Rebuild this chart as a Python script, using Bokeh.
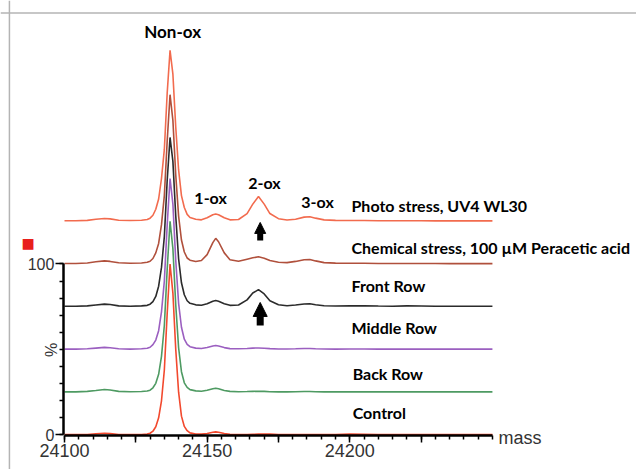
import math
from bokeh.plotting import figure
from bokeh.models import (ColumnDataSource, FixedTicker, Range1d, Label, Arrow,
                          NormalHead, Span)
from bokeh.core.properties import value
from bokeh.embed import file_html
from bokeh.resources import INLINE

# ---------------- data ----------------
mass = [24100, 24104, 24108, 24111, 24114, 24116, 24119, 24123, 24127, 24129,
        24130, 24131, 24132, 24133, 24134, 24135, 24136, 24137, 24138, 24139,
        24140, 24141, 24142, 24143, 24144, 24146, 24148, 24150, 24152, 24153,
        24154, 24156, 24158, 24161, 24164, 24166, 24168, 24170, 24172, 24175,
        24178, 24181, 24184, 24186, 24188, 24191, 24195, 24200, 24205, 24210,
        24215, 24220, 24225, 24230, 24235, 24240, 24245, 24250]

photo = [0.3, 0.3, 0.5, 1.2, 1.6, 1.4, 0.6, 0.4, 0.6, 1.0,
         1.8, 3.5, 7, 13, 25, 42, 75, 100, 86, 55,
         30, 15, 8, 4, 2.2, 1.2, 0.8, 2.0, 3.8, 4.2,
         3.8, 2.0, 0.8, 1.0, 4.5, 10, 14.5, 10, 4.5, 1.5,
         0.7, 1.2, 2.4, 2.6, 1.8, 0.8, 0.5, 0.4, 0.4, 0.3,
         0.3, 0.3, 0.3, 0.2, 0.2, 0.2, 0.2, 0.2]

chemical = [0.3, 0.3, 0.6, 1.3, 1.8, 1.5, 0.7, 0.4, 0.6, 1.0,
            1.6, 3.2, 6.5, 12, 23, 40, 72, 99, 84, 52,
            28, 14, 7, 3.5, 2.2, 1.5, 2.0, 5.5, 12.5, 15,
            13, 6.5, 2.5, 1.6, 2.8, 3.6, 4.2, 3.4, 2.0, 1.0,
            0.8, 1.5, 2.5, 2.6, 1.8, 0.8, 0.5, 0.4, 0.4, 0.3,
            0.3, 0.3, 0.3, 0.3, 0.2, 0.2, 0.2, 0.2]

front = [0.3, 0.3, 0.5, 1.0, 1.5, 1.3, 0.5, 0.3, 0.5, 0.8,
         1.5, 3.0, 6, 12, 23, 41, 74, 99, 85, 53,
         28, 14, 7, 3.5, 2, 1.1, 0.9, 1.8, 3.2, 3.6,
         3.2, 1.8, 0.8, 1.0, 4, 8, 10, 7.5, 3.5, 1.2,
         0.6, 1.0, 1.6, 1.7, 1.2, 0.6, 0.4, 0.5, 0.6, 0.4,
         0.3, 0.5, 0.4, 0.3, 0.3, 0.3, 0.3, 0.3]

middle = [0.2, 0.2, 0.4, 0.8, 1.2, 1.0, 0.4, 0.2, 0.4, 0.7,
          1.3, 2.8, 5.5, 11, 22, 40, 73, 100, 85, 52,
          27, 13, 6, 3, 1.6, 0.8, 0.6, 1.2, 2.0, 2.3,
          2.0, 1.1, 0.5, 0.4, 0.6, 0.8, 0.9, 0.7, 0.5, 0.3,
          0.3, 0.4, 0.6, 0.6, 0.4, 0.3, 0.2, 0.3, 0.3, 0.2,
          0.2, 0.2, 0.2, 0.2, 0.2, 0.2, 0.2, 0.2]

back = [0.2, 0.2, 0.5, 1.0, 1.6, 1.3, 0.5, 0.3, 0.4, 0.7,
        1.2, 2.6, 5.2, 10.5, 21, 39, 72, 100, 84, 51,
        26, 12, 5.5, 2.8, 1.5, 0.8, 0.6, 1.2, 2.0, 2.3,
        2.0, 1.0, 0.5, 0.3, 0.4, 0.5, 0.6, 0.5, 0.3, 0.2,
        0.2, 0.3, 0.4, 0.4, 0.3, 0.2, 0.2, 0.2, 0.2, 0.2,
        0.2, 0.2, 0.2, 0.2, 0.2, 0.2, 0.2, 0.2]

control = [0.2, 0.2, 0.3, 0.7, 1.0, 0.8, 0.3, 0.2, 0.3, 0.5,
           1.0, 2.2, 4.8, 10, 20, 38, 71, 100, 83, 50,
           25, 11, 5, 2.5, 1.2, 0.6, 0.5, 0.9, 1.6, 1.8,
           1.6, 0.8, 0.4, 0.3, 0.3, 0.4, 0.5, 0.6, 0.5, 0.3,
           0.2, 0.2, 0.3, 0.3, 0.2, 0.2, 0.2, 0.5, 0.4, 0.2,
           0.2, 0.2, 0.2, 0.2, 0.2, 0.2, 0.2, 0.2]

series_names = ["Photo stress, UV4 WL30",
                "Chemical stress, 100 \u00b5M Peracetic acid",
                "Front Row", "Middle Row", "Back Row", "Control"]
series_values = [photo, chemical, front, middle, back, control]
series_offsets = [125, 100, 75, 50, 25, 0]

peak_names = ["Non-ox", "1-ox", "2-ox", "3-ox"]
x_tick_values = [24100, 24125, 24150, 24175, 24200, 24225]
x_tick_labels = ["24100", "", "24150", "", "24200", ""]
y_tick_values = [0, 100]

# ---------------- styling / placement ----------------
colors = ["#F26B4E", "#B0503C", "#2B2B2B", "#9B5FC0", "#4E9A62", "#F2492E"]
label_x = [24200.6, 24200.6, 24200.6, 24200.6, 24201.0, 24201.0]
label_y = [134.2, 109.6, 87.4, 62.9, 36.0, 13.2]
peak_x = [24137.9, 24151.2, 24170.1, 24188.7]
peak_y = [236.0, 138.9, 147.7, 136.6]
peak_font = ["17px", "16px", "16px", "16px"]

p = figure(width=636, height=469, title=None,
           x_range=Range1d(24077.57, 24300.5), y_range=Range1d(-20.2, 254.1),
           output_backend="svg", toolbar_location=None,
           min_border=0, min_border_left=0, min_border_right=0,
           min_border_top=0, min_border_bottom=0)
p.xgrid.visible = False
p.ygrid.visible = False
p.outline_line_color = None
p.background_fill_color = "white"
p.border_fill_color = "white"

# light grey frame of the original figure (top and left edges visible)
p.add_layout(Span(location=24080.7, dimension="height",
                  line_color="#b4b4b4", line_width=1.5))
p.add_layout(Span(location=246.8, dimension="width",
                  line_color="#b4b4b4", line_width=1.5))

# traces
for vals, off, col in zip(series_values, series_offsets, colors):
    src = ColumnDataSource(dict(x=mass, y=[v + off for v in vals]))
    p.line("x", "y", source=src, line_color=col, line_width=1.6)

# series labels
lab_src = ColumnDataSource(dict(x=label_x, y=label_y, t=series_names))
p.text("x", "y", text="t", source=lab_src, text_font=value("Lato"),
       text_font_style="bold", text_font_size="16px", text_color="black",
       text_align="left", text_baseline="middle")

pk_src = ColumnDataSource(dict(x=peak_x, y=peak_y, t=peak_names, fs=peak_font))
p.text("x", "y", text="t", source=pk_src, text_font=value("Lato"),
       text_font_style="bold", text_font_size="fs", text_color="black",
       text_align="center", text_baseline="middle")

# arrows pointing at the 2-ox peaks
p.add_layout(Arrow(end=NormalHead(size=11, fill_color="black", line_color="black"),
                   x_start=24168.6, y_start=113.8, x_end=24168.6, y_end=124.3,
                   line_width=6, line_color="black"))
p.add_layout(Arrow(end=NormalHead(size=14, fill_color="black", line_color="black"),
                   x_start=24168.6, y_start=64.0, x_end=24168.6, y_end=77.5,
                   line_width=7, line_color="black"))

# axes
xa = p.xaxis[0]
xa.ticker = FixedTicker(ticks=x_tick_values, minor_ticks=list(range(24100, 24251, 5)))
xa.major_label_overrides = {v: l for v, l in zip(x_tick_values, x_tick_labels)}
xa.bounds = (24100, 24250)
xa.fixed_location = -0.6
ya = p.yaxis[0]
ya.ticker = FixedTicker(ticks=y_tick_values, minor_ticks=list(range(0, 101, 10)))
ya.bounds = (0, 100)
ya.fixed_location = 24099.6
for ax in (xa, ya):
    ax.axis_line_width = 2.5
    ax.axis_line_color = "black"
    ax.major_tick_line_color = "black"
    ax.minor_tick_line_color = "black"
    ax.major_tick_line_width = 1.5
    ax.minor_tick_line_width = 1.5
    ax.major_tick_in = 0
    ax.minor_tick_in = 0
    ax.major_label_text_font = "Liberation Sans"
    ax.major_label_text_color = "#333333"
    ax.major_label_standoff = 1
xa.major_tick_out = 7
xa.minor_tick_out = 4
xa.major_label_text_font_size = "18px"
ya.major_tick_out = 8
ya.minor_tick_out = 4
ya.major_label_text_font_size = "16px"

p.add_layout(Label(x=24252.1, y=-2.0, text="mass", text_font="Liberation Sans",
                   text_font_size="18px", text_color="#333333",
                   text_baseline="middle", text_align="left"))
p.add_layout(Label(x=24095.45, y=49.7, text="%", angle=math.pi / 2,
                   text_font="Liberation Sans", text_font_size="16px",
                   text_color="#333333", text_align="center", text_baseline="middle"))
p.add_layout(Label(x=24087.21, y=112.3, text="\u25a0", text_color="#E8201C",
                   text_font="DejaVu Sans", text_font_size="14px",
                   text_align="center", text_baseline="middle"))

open("out.html", "w").write(file_html(p, INLINE))
